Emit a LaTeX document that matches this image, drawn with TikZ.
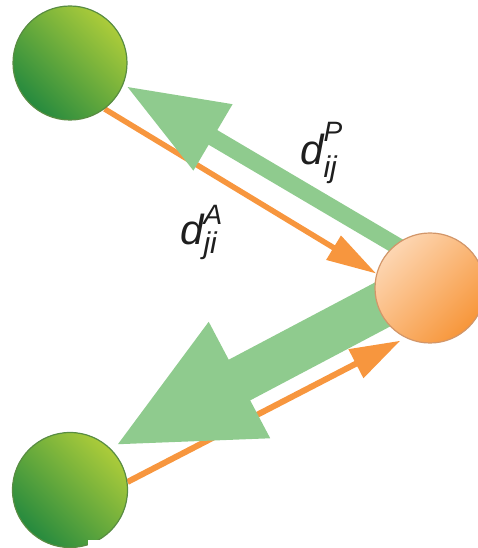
\documentclass[tikz,border=0pt]{standalone}
\usepackage{fontspec}
\setmainfont{Liberation Sans}
\usetikzlibrary{arrows.meta}
\definecolor{garrowcol}{RGB}{143,203,142}
\definecolor{oarrowcol}{RGB}{247,150,62}
\definecolor{glight}{RGB}{172,204,58}
\definecolor{gdark}{RGB}{38,138,62}
\definecolor{gborder}{RGB}{88,140,66}
\definecolor{olight}{RGB}{253,214,178}
\definecolor{odark}{RGB}{247,150,58}
\definecolor{oborder}{RGB}{210,150,105}
\definecolor{labelcol}{RGB}{30,30,30}
\pgfdeclarelayer{bg}
\pgfsetlayers{bg,main}
\newcommand\mylbl[4]{d\rlap{\raisebox{#2}{\fontsize{28}{28}\selectfont #1}}\raisebox{#4}{\fontsize{30}{30}\selectfont #3}}
\tikzset{
  greenball/.style={circle, inner sep=0pt, minimum size=#1, draw=gborder, line width=1.2pt,
    top color=glight, bottom color=gdark, shading angle=-45},
  orangeball/.style={circle, inner sep=0pt, minimum size=#1, draw=oborder, line width=1.2pt,
    top color=olight, bottom color=odark, shading angle=45},
  greenarrow/.style={draw=garrowcol, fill=garrowcol},
  orangearrow/.style={draw=oarrowcol, fill=oarrowcol},
  lbl/.style={inner sep=0pt, text=labelcol, font=\fontsize{42}{42}\selectfont\itshape},
}
\begin{document}
\begin{tikzpicture}[x=1pt,y=1pt]
\useasboundingbox (0,0) rectangle (477,548);
\node[greenball=114pt] (G1) at (70,485) {};
\node[greenball=115pt] (G2) at (70,58) {};
\node[orangeball=110pt] (O) at (430,260) {};
\begin{pgfonlayer}{bg}
\draw[orangearrow, line width=5.5pt, -{Triangle[length=50pt,width=27pt]}] (G1.-53) -- (O.165);
\draw[orangearrow, line width=6pt, -{Triangle[length=50pt,width=31pt]}, shorten >=6pt] (G2.8) -- (O.-116);
\draw[greenarrow, line width=17pt, -{Triangle[length=101pt,width=72pt]}, shorten >=3pt, shorten <=-20pt] (O.129) -- (G1.-22);
\draw[greenarrow, line width=46pt, -{Triangle[length=142pt,width=120pt]}, shorten >=4pt, shorten <=-35pt] (O.200) -- (G2.46);
\end{pgfonlayer}
\node[lbl, anchor=base west] (LP) at (300,383) {\mylbl{P}{23pt}{ij}{-13pt}};
\node[lbl, anchor=base west] (LA) at (180,303) {\mylbl{A}{20pt}{ji}{-9pt}};
\fill[white] (88,0) rectangle (150,8);
\end{tikzpicture}
\end{document}
